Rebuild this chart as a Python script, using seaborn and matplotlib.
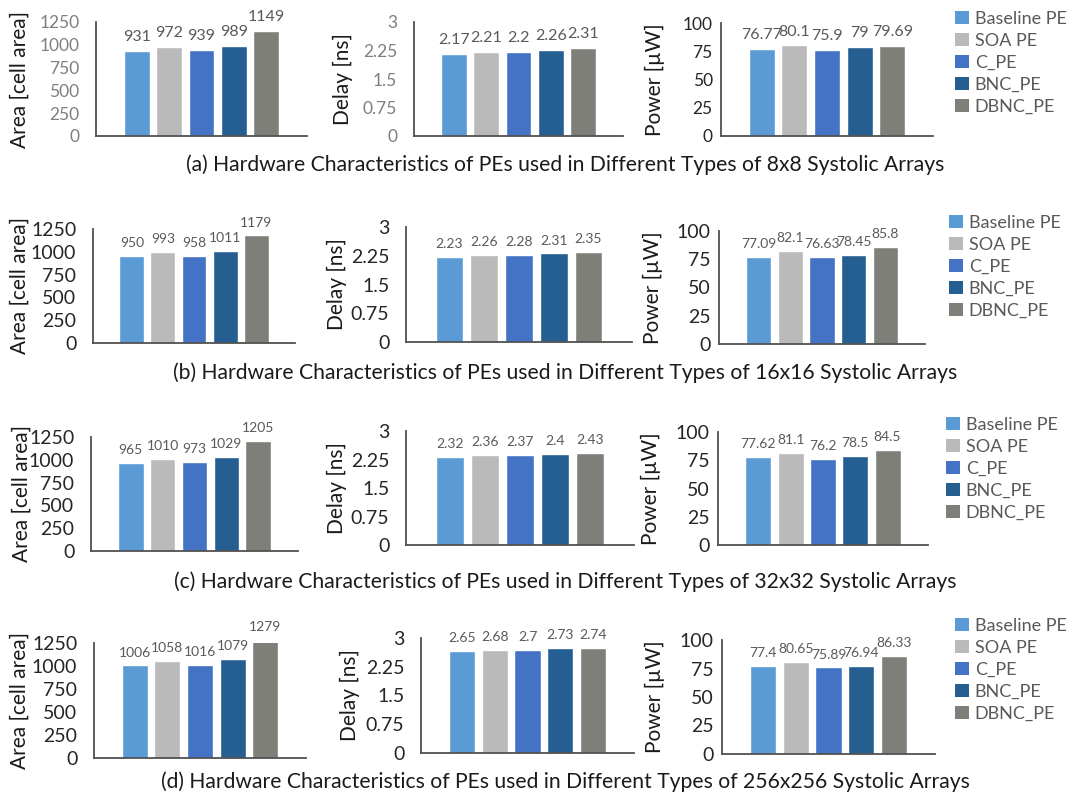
import matplotlib
matplotlib.use("Agg")
import matplotlib.pyplot as plt
from matplotlib.patches import Patch
import seaborn as sns

# PE variants and their bar colours
series = ["Baseline PE", "SOA PE", "C_PE", "BNC_PE", "DBNC_PE"]
colors = ["#5B9BD5", "#BABABA", "#4472C4", "#255E91", "#7F7F7A"]

# Hardware characteristics per systolic-array size
area_8x8 = [931, 972, 939, 989, 1149]
delay_8x8 = [2.17, 2.21, 2.2, 2.26, 2.31]
power_8x8 = [76.77, 80.1, 75.9, 79, 79.69]

area_16x16 = [950, 993, 958, 1011, 1179]
delay_16x16 = [2.23, 2.26, 2.28, 2.31, 2.35]
power_16x16 = [77.09, 82.1, 76.63, 78.45, 85.8]

area_32x32 = [965, 1010, 973, 1029, 1205]
delay_32x32 = [2.32, 2.36, 2.37, 2.4, 2.43]
power_32x32 = [77.62, 81.1, 76.2, 78.5, 84.5]

area_256x256 = [1006, 1058, 1016, 1079, 1279]
delay_256x256 = [2.65, 2.68, 2.7, 2.73, 2.74]
power_256x256 = [77.4, 80.65, 75.89, 76.94, 86.33]

captions = [
    "(a) Hardware Characteristics of PEs used in Different Types of 8x8 Systolic Arrays",
    "(b) Hardware Characteristics of PEs used in Different Types of 16x16 Systolic Arrays",
    "(c) Hardware Characteristics of PEs used in Different Types of 32x32 Systolic Arrays",
    "(d) Hardware Characteristics of PEs used in Different Types of 256x256 Systolic Arrays",
]

ylabels = ["Area [cell area]", "Delay [ns]", "Power [\u00b5W]"]
yticks = [
    [0, 250, 500, 750, 1000, 1250],
    [0, 0.75, 1.5, 2.25, 3],
    [0, 25, 50, 75, 100],
]
ytick_labels = [
    ["0", "250", "500", "750", "1000", "1250"],
    ["0", "0.75", "1.5", "2.25", "3"],
    ["0", "25", "50", "75", "100"],
]

rows = [
    [area_8x8, delay_8x8, power_8x8],
    [area_16x16, delay_16x16, power_16x16],
    [area_32x32, delay_32x32, power_32x32],
    [area_256x256, delay_256x256, power_256x256],
]

sns.set_style("white")
plt.rcParams["font.family"] = ["Lato", "DejaVu Sans"]

W, H = 1074, 798
fig = plt.figure(figsize=(W / 100, H / 100), dpi=100)

# axes boxes in pixels: (left, right, top, bottom)
boxes = [
    [(96, 307, 22, 136), (414, 623, 22, 136), (721, 933, 23, 136)],
    [(93, 295, 229, 343), (406, 632, 227, 342), (719, 925, 231, 344)],
    [(91, 298, 437, 551), (406, 634, 431, 545), (718, 928, 432, 545)],
    [(94, 306, 643, 758), (421, 634, 638, 753), (722, 935, 640, 754)],
]
label_x = [[20, 343, 655], [20, 337, 653], [22, 337, 651], [20, 350, 655]]
tick_pad = [12, 12, 6]
tick_colors = [["#7F7F7F", "#7F7F7F", "#262626"]] + [["#262626"] * 3] * 3
tick_sizes = [12.5, 14, 14, 14]
value_sizes = [11.5, 10, 10, 10]
caption_y = [165, 373, 582, 782]
legend_pos = [(955, 11), (949, 215), (946, 417), (955, 618)]

for r, row in enumerate(rows):
    for c, vals in enumerate(row):
        left, right, top, bottom = boxes[r][c]
        ax = fig.add_axes([left / W, 1 - bottom / H, (right - left) / W, (bottom - top) / H])
        sns.barplot(x=series, y=vals, hue=series, palette=colors, order=series,
                    hue_order=series, width=0.8, saturation=1, legend=False, ax=ax)
        for cont, v in zip(ax.containers, vals):
            ax.bar_label(cont, labels=[f"{v:g}"], padding=5, annotation_clip=False,
                         fontsize=value_sizes[r], color="#595959")
        ax.set_xlim(-1.25, 5.25)
        ax.set_ylim(yticks[c][0], yticks[c][-1])
        ax.set_yticks(yticks[c])
        ax.set_yticklabels(ytick_labels[c])
        ax.set_xticks([])
        ax.set_xlabel("")
        ax.tick_params(axis="y", length=0, pad=tick_pad[c],
                       labelsize=tick_sizes[r], labelcolor=tick_colors[r][c])
        for side in ["top", "right"]:
            ax.spines[side].set_visible(False)
        for side in ["left", "bottom"]:
            ax.spines[side].set_color("#505050")
            ax.spines[side].set_linewidth(1.3)
        ax.set_ylabel(ylabels[c], fontsize=15, color="#1a1a1a", va="center")
        ax.yaxis.set_label_coords(-(left - label_x[r][c]) / (right - left), 0.5)
        ax.patch.set_alpha(0)

    fig.text(565 / W, 1 - caption_y[r] / H, captions[r], ha="center", va="center",
             fontsize=15.2, color="#1a1a1a")

    handles = [Patch(facecolor=col, edgecolor="none", label=s) for s, col in zip(series, colors)]
    lx, ly = legend_pos[r]
    fig.legend(handles=handles, loc="upper left", bbox_to_anchor=(lx / W, 1 - ly / H),
               frameon=False, fontsize=13, labelcolor="#595959", handlelength=0.75,
               handleheight=0.75, handletextpad=0.35, labelspacing=0.33,
               borderpad=0, borderaxespad=0)

fig.savefig("out.png", dpi=100)
